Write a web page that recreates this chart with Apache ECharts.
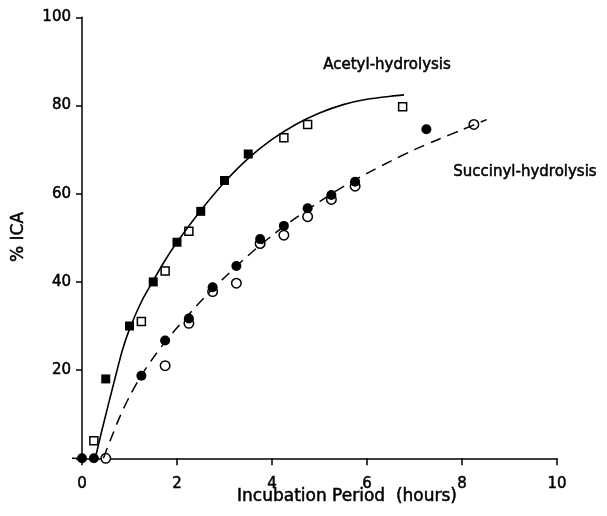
<!DOCTYPE html>
<html>
<head>
<meta charset="utf-8">
<script src="https://cdn.jsdelivr.net/npm/echarts@6/dist/echarts.min.js"></script>
<style>html,body{margin:0;padding:0;background:#fff}#c{width:607px;height:516px}</style>
</head>
<body>
<div id="c"></div>
<script>
// Measured data points
var acetylFilledX = [0.5, 1, 1.5, 2, 2.5, 3, 3.5];
var acetylFilledY = [18, 30, 40, 49, 56, 63, 69];
var acetylOpenX = [0.25, 1.25, 1.75, 2.25, 4.25, 4.75, 6.75];
var acetylOpenY = [4, 31, 42.5, 51.5, 72.7, 75.7, 79.7];
var succFilledX = [0, 0.25, 1.25, 1.75, 2.25, 2.75, 3.25, 3.75, 4.25, 4.75, 5.25, 5.75, 7.25];
var succFilledY = [0, 0, 18.7, 26.7, 31.7, 38.8, 43.6, 49.7, 52.7, 56.7, 59.7, 62.7, 74.6];
var succOpenX = [0.5, 1.75, 2.25, 2.75, 3.25, 3.75, 4.25, 4.75, 5.25, 5.75, 8.25];
var succOpenY = [0, 21, 30.6, 37.8, 39.7, 48.7, 50.6, 54.8, 58.7, 61.7, 75.7];
// Fitted curves
var acetylCurveX = [0.28, 0.4, 0.55, 0.68, 0.85, 1.0, 1.25, 1.5, 1.75, 2.0, 2.5, 3.0, 3.5, 4.0, 4.5, 5.0, 5.5, 6.0, 6.5, 6.78];
var acetylCurveY = [0, 5.5, 12, 17.5, 24.5, 29.3, 35.5, 40.3, 44.9, 49, 56.2, 62.6, 68, 72.3, 75.7, 78.3, 80.2, 81.4, 82.1, 82.4];
var succCurveX = [0.45, 0.6, 0.8, 1.0, 1.25, 1.5, 1.75, 2.0, 2.5, 3.0, 3.5, 4.0, 4.5, 5.0, 5.5, 6.0, 6.5, 7.0, 7.5, 8.0, 8.52];
var succCurveY = [0, 4.2, 9.5, 14, 18.8, 22.8, 26.4, 29.6, 35.6, 41, 46, 50.5, 54.5, 58.2, 61.6, 64.6, 67.4, 70, 72.3, 74.5, 76.8];
var xTicks = [0, 2, 4, 6, 8, 10];
var yTicks = [0, 20, 40, 60, 80, 100];

function zip(xs, ys) { return xs.map(function (x, i) { return [x, ys[i]]; }); }

var FONT = 'DejaVu Sans';
var TB = {textBorderColor: '#000', textBorderWidth: 0.5};
var chart = echarts.init(document.getElementById('c'), null, {renderer: 'canvas'});
chart.setOption({
  animation: false,
  backgroundColor: '#fff',
  grid: {left: 82, right: 50, top: 17.3, bottom: 57.7, containLabel: false},
  xAxis: {
    type: 'value', min: xTicks[0], max: xTicks[xTicks.length - 1], interval: 2,
    splitLine: {show: false},
    axisLine: {onZero: false, lineStyle: {color: '#000', width: 1.5}},
    axisTick: {length: 7, lineStyle: {color: '#000', width: 1.5}},
    axisLabel: Object.assign({margin: 18, color: '#000', fontFamily: FONT, fontSize: 15}, TB)
  },
  yAxis: {
    type: 'value', min: yTicks[0], max: yTicks[yTicks.length - 1], interval: 20,
    splitLine: {show: false},
    axisLine: {lineStyle: {color: '#000', width: 1.5}},
    axisTick: {length: 6, lineStyle: {color: '#000', width: 1.5}},
    axisLabel: Object.assign({margin: 11, color: '#000', fontFamily: FONT, fontSize: 15,
      formatter: function (v) { return v === 0 ? '' : String(v); }}, TB)
  },
  graphic: [
    {type: 'line', shape: {x1: 72, y1: 458.3, x2: 82, y2: 458.3}, style: {stroke: '#000', lineWidth: 1.5}},
    {type: 'text', left: 323, top: 57, style: {text: 'Acetyl-hydrolysis', font: '15px "DejaVu Sans"', fill: '#000', stroke: '#000', lineWidth: 0.5}},
    {type: 'text', left: 453, top: 164, style: {text: 'Succinyl-hydrolysis', font: '15px "DejaVu Sans"', fill: '#000', stroke: '#000', lineWidth: 0.5}},
    {type: 'text', x: 347, y: 497, style: {text: 'Incubation Period  (hours)', font: '17px "DejaVu Sans"', fill: '#000', stroke: '#000', lineWidth: 0.5, align: 'center', verticalAlign: 'middle'}},
    {type: 'text', x: 19, y: 237, rotation: Math.PI / 2, style: {text: '% ICA', font: '17px "DejaVu Sans"', fill: '#000', stroke: '#000', lineWidth: 0.5, align: 'center', verticalAlign: 'middle'}}
  ],
  series: [
    {type: 'scatter', data: zip(acetylOpenX, acetylOpenY), symbol: 'rect', symbolSize: 8,
      itemStyle: {color: '#fff', borderColor: '#000', borderWidth: 1.5, opacity: 1}, z: 2},
    {type: 'scatter', data: zip(acetylFilledX, acetylFilledY), symbol: 'rect', symbolSize: 9,
      itemStyle: {color: '#000', opacity: 1}, z: 3},
    {type: 'scatter', data: zip(succOpenX, succOpenY), symbol: 'circle', symbolSize: 9.5,
      itemStyle: {color: '#fff', borderColor: '#000', borderWidth: 1.5, opacity: 1}, z: 2},
    {type: 'scatter', data: zip(succFilledX, succFilledY), symbol: 'circle', symbolSize: 10,
      itemStyle: {color: '#000', opacity: 1}, z: 3},
    {type: 'line', data: zip(acetylCurveX, acetylCurveY), smooth: 0.3, showSymbol: false, symbol: 'none',
      lineStyle: {color: '#000', width: 1.6}, z: 4},
    {type: 'line', data: zip(succCurveX, succCurveY), smooth: 0.3, showSymbol: false, symbol: 'none',
      lineStyle: {color: '#000', width: 1.5, type: [11, 7]}, z: 4}
  ]
});
</script>
</body>
</html>
